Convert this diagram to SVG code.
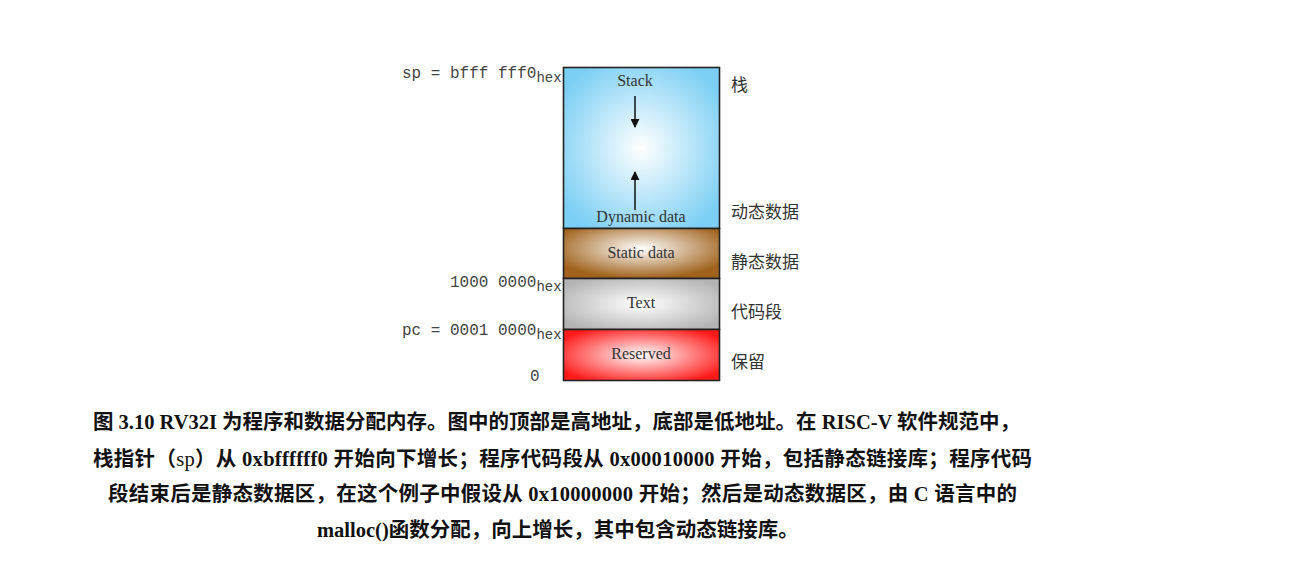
<svg xmlns="http://www.w3.org/2000/svg" width="1290" height="582" viewBox="0 0 1290 582">
<defs>
<radialGradient id="gStack" cx="0.5" cy="0.5" r="0.6"><stop offset="0" stop-color="#ffffff"/><stop offset="1" stop-color="#7ccff4"/></radialGradient>
<radialGradient id="gStatic" cx="0.5" cy="0.4" r="0.6"><stop offset="0" stop-color="#ffffff"/><stop offset="1" stop-color="#a0621c"/></radialGradient>
<radialGradient id="gText" cx="0.5" cy="0.5" r="0.6"><stop offset="0" stop-color="#ffffff"/><stop offset="1" stop-color="#b4b4b4"/></radialGradient>
<radialGradient id="gRes" cx="0.5" cy="0.5" r="0.6"><stop offset="0" stop-color="#ffffff"/><stop offset="1" stop-color="#ff1a1a"/></radialGradient>
<marker id="ah" viewBox="0 0 10 10" refX="9" refY="5" markerWidth="9" markerHeight="9" markerUnits="userSpaceOnUse" orient="auto"><path d="M0,0 L10,5 L0,10 z" fill="#111"/></marker>
</defs>
<style>
.seg{stroke:#222;stroke-width:1.6}
.lbl{font-family:"Liberation Serif","Noto Sans CJK SC",serif;font-size:16px;fill:#333;text-anchor:middle}
.mono{font-family:"Liberation Mono",monospace;font-size:16px;fill:#444}
.sub{font-size:14px}
.cn{font-family:"Noto Sans CJK SC",sans-serif;font-size:17px;fill:#333}
.cap{font-family:"Liberation Serif","Noto Sans CJK SC",serif;font-size:20.5px;font-weight:bold;fill:#111}
.arr{stroke:#111;stroke-width:1.5;fill:none;marker-end:url(#ah)}
</style>
<rect width="1290" height="582" fill="#ffffff"/>
<g id="stack"><rect class="seg" x="563.5" y="67.5" width="156" height="161" fill="url(#gStack)"/><text class="lbl" x="635" y="86">Stack</text><text class="lbl" x="641" y="222">Dynamic data</text></g>
<g id="static"><rect class="seg" x="563.5" y="228.5" width="156" height="50" fill="url(#gStatic)"/><text class="lbl" x="641" y="258">Static data</text></g>
<g id="text"><rect class="seg" x="563.5" y="278.5" width="156" height="51" fill="url(#gText)"/><text class="lbl" x="641" y="308">Text</text></g>
<g id="reserved"><rect class="seg" x="563.5" y="329.5" width="156" height="51" fill="url(#gRes)"/><text class="lbl" x="641" y="359">Reserved</text></g>
<g id="connectors"><line class="arr" x1="635" y1="96" x2="635" y2="127"/><line class="arr" x1="635" y1="210" x2="635" y2="172"/></g>
<g id="addresses">
<text class="mono" x="402" y="78">sp = bfff fff0<tspan class="sub" dy="4">hex</tspan></text>
<text class="mono" x="450" y="287">1000 0000<tspan class="sub" dy="4">hex</tspan></text>
<text class="mono" x="402" y="335">pc = 0001 0000<tspan class="sub" dy="4">hex</tspan></text>
<text class="mono" x="530" y="381">0</text>
</g>
<g id="names">
<text class="cn" x="731" y="91">栈</text>
<text class="cn" x="731" y="218">动态数据</text>
<text class="cn" x="731" y="268">静态数据</text>
<text class="cn" x="731" y="318">代码段</text>
<text class="cn" x="731" y="368">保留</text>
</g>
<g id="caption">
<text class="cap" x="93" y="429">图 3.10 RV32I 为程序和数据分配内存。图中的顶部是高地址，底部是低地址。在 RISC-V 软件规范中，</text>
<text class="cap" x="93" y="466" letter-spacing="0.3">栈指针（<tspan font-weight="normal">sp</tspan>）从 0xbffffff0 开始向下增长；程序代码段从 0x00010000 开始，包括静态链接库；程序代码</text>
<text class="cap" x="108" y="501" letter-spacing="0.25">段结束后是静态数据区，在这个例子中假设从 0x10000000 开始；然后是动态数据区，由 C 语言中的</text>
<text class="cap" x="317" y="537">malloc()函数分配，向上增长，其中包含动态链接库。</text>
</g>
</svg>
